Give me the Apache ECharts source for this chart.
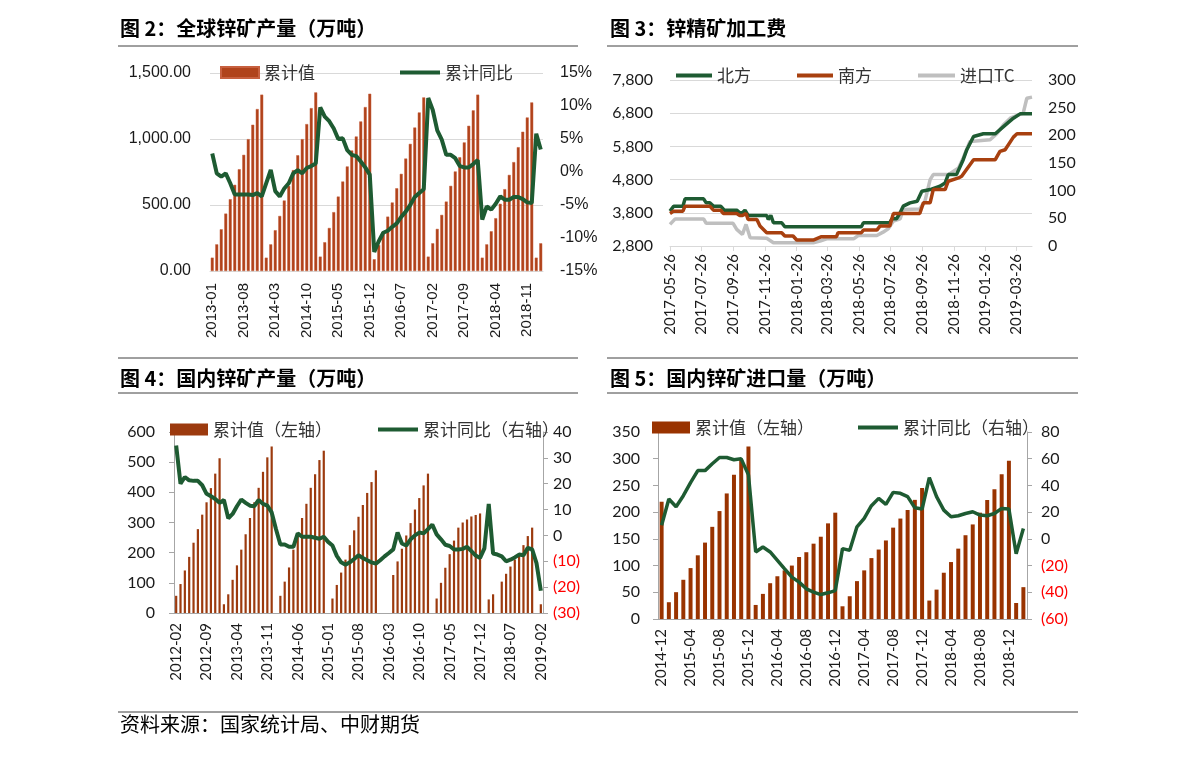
<!DOCTYPE html>
<html><head><meta charset="utf-8">
<script src="https://cdn.jsdelivr.net/npm/echarts@6/dist/echarts.min.js"></script>
<style>html,body{margin:0;padding:0;background:#fff}#c{width:1191px;height:758px}</style>
</head><body><div id="c"></div><script>
// ---------- DATA ----------
function monthSeq(y, m, n) { const out = []; for (let i = 0; i < n; i++) { const mm = m - 1 + i; out.push((y + Math.floor(mm / 12)) + '-' + String(mm % 12 + 1).padStart(2, '0')); } return out; }

// Fig 2: global zinc mine output
const P1_CATS = monthSeq(2013, 1, 74);
const P1_VALUES = [101,202,316,435,544,653,771,880,999,1108,1227,1336,
  101,202,309,417,534,645,764,877,999,1113,1234,1353,
  109,218,326,446,564,678,792,913,1019,1133,1242,1343,
  89,197,298,412,519,627,736,852,963,1087,1201,1315,
  109,210,319,425,526,645,754,862,974,1100,1217,1336,
  101,202,301,400,509,620,728,825,938,1055,1163,1277,
  101,210];
const P1_YOY = [2.8,-0.2,-0.7,-0.2,-1.7,-3.4,-3.4,-3.4,-3.4,-3.5,-3.2,-3.7,
  -1.7,0.3,-2.9,-3.7,-2.5,-1.7,-0.2,0.3,-0.2,0.6,0.9,1.3,
  9.8,8.4,7.7,6.6,5.0,5.1,3.3,2.6,2.4,1.6,0.7,-0.4,
  -12.1,-10.5,-9.2,-8.9,-8.3,-7.8,-6.8,-6.0,-5.0,-3.8,-3.2,-2.6,
  11.2,9.4,6.3,4.9,2.6,2.6,2.1,0.9,0.7,0.7,1.2,1.8,
  -7.2,-5.2,-5.7,-4.8,-3.7,-4.2,-4.2,-3.8,-3.8,-4.1,-4.6,-4.7,
  5.8,3.4];

// Fig 3: zinc concentrate TC
const P2_TICKS = ['2017-05-26','2017-07-26','2017-09-26','2017-11-26','2018-01-26','2018-03-26','2018-05-26','2018-07-26','2018-09-26','2018-11-26','2019-01-26','2019-03-26'];
const P2_RANGE = ['2017-05-26', '2019-04-26'];
const P2_NORTH = [['2017-05-26',3850],['2017-06-02',4000],['2017-06-20',4000],['2017-06-24',4220],['2017-07-30',4220],['2017-08-04',4100],['2017-08-11',4100],['2017-08-18',4000],['2017-09-01',4000],['2017-09-08',3880],['2017-10-02',3880],['2017-10-08',3800],['2017-10-13',3800],['2017-10-18',3880],['2017-10-24',3720],['2017-11-29',3720],['2017-12-02',3600],['2017-12-07',3720],['2017-12-12',3500],['2017-12-28',3500],['2018-01-03',3380],['2018-05-31',3380],['2018-06-04',3500],['2018-07-25',3500],['2018-07-29',3620],['2018-08-07',3620],['2018-08-14',3800],['2018-08-20',4000],['2018-09-02',4100],['2018-09-16',4150],['2018-09-25',4450],['2018-10-11',4500],['2018-10-30',4600],['2018-11-09',4700],['2018-11-15',4950],['2018-12-01',4950],['2018-12-14',5400],['2018-12-21',5700],['2019-01-03',6100],['2019-01-22',6180],['2019-02-14',6180],['2019-03-08',6480],['2019-03-21',6650],['2019-04-03',6780],['2019-04-26',6780]];
const P2_SOUTH = [['2017-05-26',3780],['2017-06-02',3850],['2017-06-20',3850],['2017-06-24',4000],['2017-08-11',4000],['2017-08-18',3880],['2017-09-01',3880],['2017-09-06',3780],['2017-10-02',3780],['2017-10-08',3720],['2017-10-13',3720],['2017-10-20',3780],['2017-10-24',3600],['2017-11-10',3600],['2017-11-16',3400],['2017-11-29',3200],['2017-12-28',3200],['2018-01-03',3100],['2018-01-19',3100],['2018-01-26',2980],['2018-02-27',2980],['2018-03-15',3080],['2018-04-13',3080],['2018-04-16',3200],['2018-05-31',3200],['2018-06-04',3280],['2018-06-30',3280],['2018-07-06',3400],['2018-07-25',3400],['2018-08-01',3780],['2018-09-21',3780],['2018-09-28',4100],['2018-10-11',4100],['2018-10-17',4500],['2018-11-09',4500],['2018-11-15',4750],['2018-12-05',4850],['2018-12-11',4900],['2019-01-03',5400],['2019-02-14',5400],['2019-02-23',5650],['2019-03-05',5700],['2019-03-21',6080],['2019-03-28',6180],['2019-04-26',6180]];
const P2_IMPORT = [['2017-05-26',39],['2017-06-05',49],['2017-07-30',49],['2017-08-04',41],['2017-09-25',41],['2017-10-02',30],['2017-10-13',21],['2017-10-20',39],['2017-10-28',15],['2017-11-29',14],['2017-12-12',6],['2018-02-27',6],['2018-03-12',9],['2018-03-25',13],['2018-05-16',13],['2018-05-25',19],['2018-06-30',19],['2018-07-12',25],['2018-07-22',31],['2018-08-01',45],['2018-08-14',49],['2018-08-20',66],['2018-09-21',67],['2018-10-01',81],['2018-10-11',120],['2018-10-17',129],['2018-11-15',129],['2018-12-05',141],['2018-12-14',159],['2018-12-27',189],['2019-02-04',192],['2019-02-17',203],['2019-03-02',219],['2019-03-15',231],['2019-03-31',237],['2019-04-09',240],['2019-04-16',267],['2019-04-26',269]];

// Fig 4: domestic zinc mine output
const P3_CATS = monthSeq(2012, 2, 85);
const P3_VALUES = [57,96,141,186,233,278,326,367,414,462,513,
  29,62,110,158,210,261,315,367,415,468,516,552,
  null,57,104,151,210,261,315,362,415,460,507,538,
  null,48,93,134,177,225,274,319,358,398,434,473,
  null,null,null,126,171,213,257,298,343,381,423,462,
  null,48,100,150,195,240,283,300,310,320,325,330,
  null,45,62,null,104,130,154,177,199,225,255,283,
  null,29];
const P3_YOY = [34.8,20.0,22.6,21.3,21.1,21.1,19.4,16.1,15.2,14.1,12.6,
  13.7,6.6,8.3,11.3,13.9,12.6,11.5,11.3,13.7,12.2,11.5,8.9,
  2.4,-3.5,-3.5,-4.4,-4.4,0.8,-0.5,-0.5,-0.5,-0.9,-1.3,-0.5,
  -2.5,-3.9,-7.9,-10.4,-11.3,-10.4,-9.1,-7.7,-8.7,-9.6,-10.4,-10.9,
  -9.6,-8.1,-6.8,-5.4,1.1,-3.1,-3.9,-1.5,0.0,1.1,0.8,2.4,
  4.2,0.4,-1.5,-3.6,-4.1,-5.4,-5.4,-5.2,-4.4,-6.1,-7.8,-8.7,
  -5.0,12.2,-7.0,-7.4,-8.1,-10.0,-9.4,-8.5,-7.4,-7.7,-4.8,-5.4,
  -10.7,-21.4];

// Fig 5: domestic zinc ore imports
const P4_CATS = monthSeq(2014, 12, 51);
const P4_VALUES = [219.5,31.4,50.2,73.4,95.3,119.2,143,172.5,202,235,270,298,323,
  26.3,47,67,80,91,100,116,125,141,154,179,199,
  23.8,42.6,70.9,91,114,130,147,171,188,204,223,245,
  34.5,55,86.6,106.6,131.7,156.8,177,199,222.7,242.7,271,296,
  30,59.6];
const P4_YOY = [10.2,29.8,24.0,32.3,42.1,51.1,51.1,56.2,60.9,60.9,59.2,59.9,47.9,
  -9.8,-6.1,-9.8,-16.1,-22.4,-28.6,-32.4,-37.4,-39.9,-41.7,-40.4,-38.7,
  -7.3,-8.6,9.0,15.3,24.8,30.3,25.8,34.8,34.1,31.6,23.3,22.3,
  45.9,31.6,21.5,16.5,17.3,19.0,20.3,17.8,17.3,19.0,22.8,22.3,
  -11.1,7.7];

// ---------- STYLE ----------
const CJK = '"Noto Sans CJK SC", sans-serif';
const ARIAL = '"Liberation Sans", Arial, sans-serif';
const CAL = 'Lato, "Noto Sans", sans-serif';
const GREEN = '#1E5B32', BROWN = '#B0431B', DBROWN = '#9C3A0E', GREY = '#BFBFBF';
const GRID_C = '#D9D9D9', AX_C = '#A6A6A6';

function parseD(s) { const p = s.split('-'); return new Date(+p[0], +p[1] - 1, +p[2]).getTime(); }
function fmtD(v) { const d = new Date(Math.round(v)); return d.getFullYear() + '-' + String(d.getMonth() + 1).padStart(2, '0') + '-' + String(d.getDate()).padStart(2, '0'); }
const toXY = arr => arr.map(p => [parseD(p[0]), p[1]]);
const tickTimes = P2_TICKS.map(parseD);
const paren = v => v < 0 ? '{r|(' + (-v) + ')}' : String(v);
const comma = v => v.toLocaleString('en-US');

const lbl = (font, size, extra) => Object.assign({ fontFamily: font, fontSize: size, color: '#1a1a1a' }, extra || {});

function legendItem(name, left, top, icon, w, h, font, size, label) {
  const l = { data: [{ name, icon }], left, top, itemWidth: w, itemHeight: h, padding: 0, selectedMode: false,
    textStyle: { fontFamily: font, fontSize: size, color: '#333' } };
  if (label) l.formatter = () => label;
  return l;
}

const option = {
  animation: false,
  backgroundColor: '#fff',
  grid: [
    { left: 210, top: 73, width: 333, height: 198 },
    { left: 670, top: 80, width: 362, height: 166 },
    { left: 174, top: 432, width: 369, height: 181 },
    { left: 658, top: 432, width: 369, height: 187 }
  ],
  legend: [
    legendItem('累计值', 220, 64, 'rect', 38, 11, CJK, 17),
    legendItem('累计同比', 400, 64, 'rect', 40, 4, CJK, 17),
    legendItem('北方', 676, 67, 'rect', 36, 4, CJK, 17),
    legendItem('南方', 797, 67, 'rect', 36, 4, CJK, 17),
    legendItem('进口TC', 918, 67, 'rect', 37, 4, CJK, 17),
    legendItem('P3累计值', 170, 421, 'rect', 38, 12, CJK, 17, '累计值（左轴）'),
    legendItem('P3累计同比', 378, 421, 'rect', 40, 4, CJK, 17, '累计同比（右轴）'),
    legendItem('P4累计值', 652, 419, 'rect', 38, 12, CJK, 17, '累计值（左轴）'),
    legendItem('P4累计同比', 858, 419, 'rect', 40, 4, CJK, 17, '累计同比（右轴）')
  ],
  xAxis: [
    { type: 'category', gridIndex: 0, data: P1_CATS, axisLine: { lineStyle: { color: GRID_C } }, axisTick: { show: false },
      axisLabel: lbl(ARIAL, 15, { interval: 6, rotate: 90, margin: 12 }) },
    { type: 'value', gridIndex: 1, min: parseD(P2_RANGE[0]), max: parseD(P2_RANGE[1]), splitLine: { show: false },
      axisLine: { lineStyle: { color: GRID_C } },
      axisTick: { show: true, customValues: tickTimes, length: 5, lineStyle: { color: GRID_C } },
      axisLabel: lbl(CAL, 15, { customValues: tickTimes, rotate: 90, margin: 8, formatter: fmtD }) },
    { type: 'category', gridIndex: 2, data: P3_CATS, axisLine: { lineStyle: { color: AX_C } },
      axisTick: { interval: 6, length: 5, lineStyle: { color: AX_C } },
      axisLabel: lbl(CAL, 15, { interval: 6, rotate: 90, margin: 10 }) },
    { type: 'category', gridIndex: 3, data: P4_CATS, axisLine: { lineStyle: { color: AX_C } },
      axisTick: { interval: 3, length: 5, lineStyle: { color: AX_C } },
      axisLabel: lbl(CAL, 15, { interval: 3, rotate: 90, margin: 10 }) }
  ],
  yAxis: [
    { type: 'value', gridIndex: 0, min: 0, max: 1500, interval: 500, axisLine: { show: false }, axisTick: { show: false },
      splitLine: { lineStyle: { color: GRID_C } }, axisLabel: lbl(ARIAL, 16, { margin: 19, formatter: v => v.toLocaleString('en-US', { minimumFractionDigits: 2 }) }) },
    { type: 'value', gridIndex: 0, position: 'right', min: -15, max: 15, interval: 5, axisLine: { show: false }, axisTick: { show: false },
      splitLine: { show: false }, axisLabel: lbl(ARIAL, 16, { margin: 17, formatter: v => v + '%' }) },
    { type: 'value', gridIndex: 1, min: 2800, max: 7800, interval: 1000, axisLine: { show: false }, axisTick: { show: false },
      splitLine: { lineStyle: { color: GRID_C } }, axisLabel: lbl(CAL, 16, { margin: 17, formatter: comma }) },
    { type: 'value', gridIndex: 1, position: 'right', min: 0, max: 300, interval: 50, axisLine: { show: false }, axisTick: { show: false },
      splitLine: { show: false }, axisLabel: lbl(CAL, 16, { margin: 16 }) },
    { type: 'value', gridIndex: 2, min: 0, max: 600, interval: 100, axisLine: { show: true, lineStyle: { color: AX_C } },
      axisTick: { show: true, length: 5, lineStyle: { color: AX_C } }, splitLine: { show: false }, axisLabel: lbl(CAL, 16, { margin: 19 }) },
    { type: 'value', gridIndex: 2, position: 'right', min: -30, max: 40, interval: 10, axisLine: { show: true, lineStyle: { color: AX_C } },
      axisTick: { show: true, length: 5, lineStyle: { color: AX_C } }, splitLine: { show: false },
      axisLabel: lbl(CAL, 16, { margin: 10, formatter: paren, rich: { r: { color: '#FF0000', fontFamily: CAL, fontSize: 16 } } }) },
    { type: 'value', gridIndex: 3, min: 0, max: 350, interval: 50, axisLine: { show: true, lineStyle: { color: AX_C } },
      axisTick: { show: true, length: 5, lineStyle: { color: AX_C } }, splitLine: { show: false }, axisLabel: lbl(CAL, 16, { margin: 18 }) },
    { type: 'value', gridIndex: 3, position: 'right', min: -60, max: 80, interval: 20, axisLine: { show: true, lineStyle: { color: AX_C } },
      axisTick: { show: true, length: 5, lineStyle: { color: AX_C } }, splitLine: { show: false },
      axisLabel: lbl(CAL, 16, { margin: 14, formatter: paren, rich: { r: { color: '#FF0000', fontFamily: CAL, fontSize: 16 } } }) }
  ],
  series: [
    { name: '累计值', type: 'bar', xAxisIndex: 0, yAxisIndex: 0, data: P1_VALUES, barWidth: '66%',
      itemStyle: { color: BROWN, borderColor: '#C7603F', borderWidth: 0.5 } },
    { name: '累计同比', type: 'line', xAxisIndex: 0, yAxisIndex: 1, data: P1_YOY, showSymbol: false,
      lineStyle: { color: GREEN, width: 4 }, itemStyle: { color: GREEN } },
    { name: '北方', type: 'line', xAxisIndex: 1, yAxisIndex: 2, data: toXY(P2_NORTH), showSymbol: false,
      lineStyle: { color: GREEN, width: 3.5 }, itemStyle: { color: GREEN } },
    { name: '南方', type: 'line', xAxisIndex: 1, yAxisIndex: 2, data: toXY(P2_SOUTH), showSymbol: false,
      lineStyle: { color: '#A8400F', width: 3.5 }, itemStyle: { color: '#A8400F' } },
    { name: '进口TC', type: 'line', xAxisIndex: 1, yAxisIndex: 3, data: toXY(P2_IMPORT), showSymbol: false, z: 1,
      lineStyle: { color: GREY, width: 3.5 }, itemStyle: { color: GREY } },
    { name: 'P3累计值', type: 'bar', xAxisIndex: 2, yAxisIndex: 4, data: P3_VALUES, barWidth: 2.2,
      itemStyle: { color: DBROWN } },
    { name: 'P3累计同比', type: 'line', xAxisIndex: 2, yAxisIndex: 5, data: P3_YOY, showSymbol: false,
      lineStyle: { color: GREEN, width: 4 }, itemStyle: { color: GREEN } },
    { name: 'P4累计值', type: 'bar', xAxisIndex: 3, yAxisIndex: 6, data: P4_VALUES, barWidth: '55%',
      itemStyle: { color: '#993300' } },
    { name: 'P4累计同比', type: 'line', xAxisIndex: 3, yAxisIndex: 7, data: P4_YOY, showSymbol: false,
      lineStyle: { color: GREEN, width: 3.5 }, itemStyle: { color: GREEN } }
  ],
  graphic: [
    { type: 'text', left: 120, top: 18, style: { text: '图 2：全球锌矿产量（万吨）', font: 'bold 20px ' + CJK, fill: '#000' } },
    { type: 'text', left: 610, top: 18, style: { text: '图 3：锌精矿加工费', font: 'bold 20px ' + CJK, fill: '#000' } },
    { type: 'text', left: 120, top: 368, style: { text: '图 4：国内锌矿产量（万吨）', font: 'bold 20px ' + CJK, fill: '#000' } },
    { type: 'text', left: 610, top: 368, style: { text: '图 5：国内锌矿进口量（万吨）', font: 'bold 20px ' + CJK, fill: '#000' } },
    { type: 'text', left: 120, top: 714, style: { text: '资料来源：国家统计局、中财期货', font: '20px ' + CJK, fill: '#000' } },
    { type: 'line', shape: { x1: 118, y1: 46, x2: 578, y2: 46 }, style: { stroke: '#404040', lineWidth: 1 } },
    { type: 'line', shape: { x1: 607, y1: 46, x2: 1078, y2: 46 }, style: { stroke: '#404040', lineWidth: 1 } },
    { type: 'line', shape: { x1: 118, y1: 358, x2: 578, y2: 358 }, style: { stroke: '#404040', lineWidth: 1 } },
    { type: 'line', shape: { x1: 607, y1: 358, x2: 1078, y2: 358 }, style: { stroke: '#404040', lineWidth: 1 } },
    { type: 'line', shape: { x1: 118, y1: 393, x2: 578, y2: 393 }, style: { stroke: '#404040', lineWidth: 1 } },
    { type: 'line', shape: { x1: 607, y1: 393, x2: 1078, y2: 393 }, style: { stroke: '#404040', lineWidth: 1 } },
    { type: 'line', shape: { x1: 118, y1: 712, x2: 1078, y2: 712 }, style: { stroke: '#404040', lineWidth: 1 } }
  ]
};
const chart = echarts.init(document.getElementById('c'), null, { renderer: 'canvas' });
chart.setOption(option);
</script></body></html>
